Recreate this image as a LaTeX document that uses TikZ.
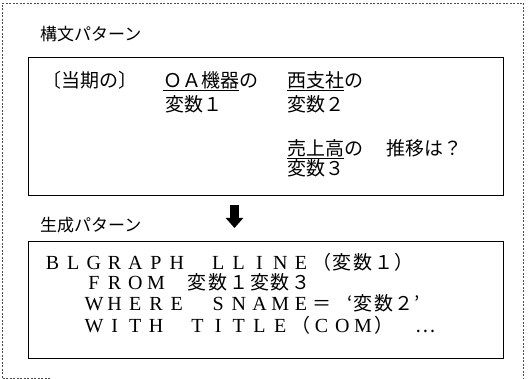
\documentclass[tikz,border=0pt]{standalone}
\usepackage{fontspec}
\setmainfont{Noto Sans CJK JP}
\newfontfamily\jpfont{Noto Sans CJK JP}
\newfontfamily\latinfont{Liberation Serif}
\usetikzlibrary{positioning, arrows.meta}

% fixed character cells for the generated code
\newlength\cellw
\setlength\cellw{20.7pt}
\makeatletter
\newcommand\cells[1]{\@tfor\cellchar:=#1\do{\makebox[\cellw]{\cellchar}}}
\makeatother
\newcommand\lat[1]{{\latinfont\fontsize{20}{22}\selectfont\cells{#1}}}
\newcommand\jp[1]{{\jpfont\fontsize{19}{21}\selectfont\cells{#1}}}
\newcommand\jq[2]{{\jpfont\fontsize{19}{21}\selectfont\makebox[\cellw][#1]{#2}}}
\newcommand\ul[1]{\setbox0\hbox{#1}\rlap{\rule[-3.5pt]{\wd0}{1pt}}\box0}

\begin{document}
\begin{tikzpicture}[x=1pt, y=-1pt,
    outer/.style={draw=black!70, line width=0.5pt, dash pattern=on 2pt off 1.5pt},
    frame/.style={draw, line width=1.1pt, anchor=north west, inner sep=0pt},
    title/.style={anchor=base west, inner sep=0pt, font=\fontsize{17}{19}\selectfont},
    jtext/.style={anchor=base west, inner sep=0pt, font=\fontsize{19}{21}\selectfont},
    ctext/.style={anchor=base west, inner sep=0pt},
    down/.style={line width=9pt, -{Triangle[width=17pt, length=10pt]}},
]
\useasboundingbox (0,0) rectangle (528,379);

% outer dashed frame
\draw[outer] (2.5,378) -- (2.5,3) -- (523,3) -- (523,379);
\draw[outer] (2.5,378) -- (50,378);

% ---- syntax pattern ----
\node[title] (syntaxtitle) at (40,41) {構文パターン};
\node[frame, minimum width=475pt, minimum height=138pt] (syntaxbox) at (28,57) {};

\node[jtext] (period) at (42,88) {〔当期の〕};
\node[jtext] (oa) at (163,88) {\ul{ＯＡ機器}の};
\node[jtext] (var1) at (165,112) {変数１};
\node[jtext] (west) at (287,88) {\ul{西支社}の};
\node[jtext] (var2) at (287,112) {変数２};
\node[jtext] (sales) at (287,156) {\ul{売上高}の};
\node[jtext] (trend) at (386,156) {推移は？};
\node[jtext] (var3) at (287,176) {変数３};

% ---- generation pattern ----
\coordinate (arrowtop) at (234.5,205);
\coordinate (arrowbot) at (234.5,228);
\draw[down] (arrowtop) -- (arrowbot);

\node[title] (gentitle) at (40,232) {生成パターン};
\node[frame, minimum width=475pt, minimum height=117pt] (genbox) at (28,241) {};

\node[ctext] (line1) at (42,270) {\lat{BLGRAPH}\jp{　}\lat{LLINE}\jp{（変数１）}};
\node[ctext] (line2) at (83.4,290) {\lat{FROM}\jp{　変数１変数３}};
\node[ctext] (line3) at (83.4,311) {\lat{WHERE}\jp{　}\lat{SNAME}\jp{＝}\jq{r}{‘}\jp{変数２}\jq{l}{’}};
\node[ctext] (line4) at (83.4,333) {\lat{WITH}\jp{　}\lat{TITLE}\jp{（}\lat{COM}\jp{）　…}};

\end{tikzpicture}
\end{document}
